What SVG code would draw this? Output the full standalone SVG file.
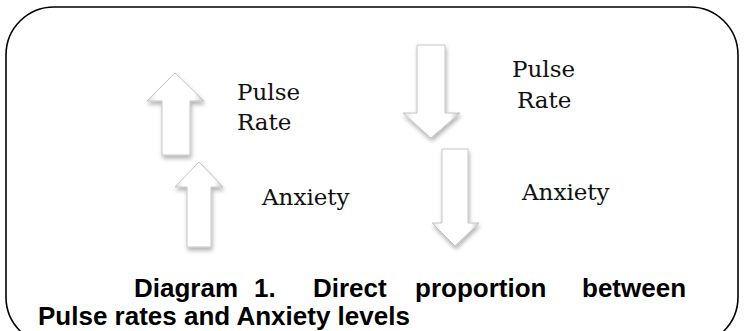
<svg xmlns="http://www.w3.org/2000/svg" width="747" height="331" viewBox="0 0 747 331">
<defs>
<style>
.lbl{font-family:"DejaVu Serif","Liberation Serif",serif;font-size:23px;fill:#111}
.cap{font-family:"Liberation Sans",Arial,sans-serif;font-weight:bold;font-size:26px;fill:#000}
.arr{fill:url(#g);stroke:#c4c4c4;stroke-width:1;filter:url(#sh)}
</style>
<linearGradient id="g" x1="0" y1="0" x2="1" y2="0">
<stop offset="0" stop-color="#dedede"/>
<stop offset="0.18" stop-color="#ffffff"/>
<stop offset="0.82" stop-color="#ffffff"/>
<stop offset="1" stop-color="#c8c8c8"/>
</linearGradient>
<filter id="sh" x="-30%" y="-30%" width="160%" height="160%">
<feDropShadow dx="1" dy="3" stdDeviation="2" flood-color="#000" flood-opacity="0.3"/>
</filter>
</defs>
<rect x="6" y="7" width="732" height="338" rx="48" ry="48" fill="#fff" stroke="#000" stroke-width="1.6"/>
<g id="arrow-up-pulse">
<path class="arr" d="M175,73 L204,101 L190,101 L190,155 L162,155 L162,101 L147,101 Z"/>
</g>
<g id="arrow-up-anxiety">
<path class="arr" d="M199,162 L223,187 L211,187 L211,247 L187,247 L187,187 L175,187 Z"/>
</g>
<g id="arrow-down-pulse">
<path class="arr" d="M417,45 L445,45 L445,113 L460,113 L431,138 L403,113 L417,113 Z"/>
</g>
<g id="arrow-down-anxiety">
<path class="arr" d="M442,149 L468,149 L468,223 L479,223 L455,246 L432,223 L442,223 Z"/>
</g>
<g id="label-pulse-up"><text class="lbl" x="237" y="100">Pulse</text><text class="lbl" x="237" y="130">Rate</text></g>
<g id="label-anxiety-up"><text class="lbl" x="262" y="205">Anxiety</text></g>
<g id="label-pulse-down"><text class="lbl" x="512" y="77">Pulse</text><text class="lbl" x="517" y="108">Rate</text></g>
<g id="label-anxiety-down"><text class="lbl" x="522" y="200">Anxiety</text></g>
<g id="caption">
<text class="cap" x="134" y="297">Diagram</text>
<text class="cap" x="254" y="297">1.</text>
<text class="cap" x="313" y="297">Direct</text>
<text class="cap" x="415" y="297">proportion</text>
<text class="cap" x="582" y="297">between</text>
<text class="cap" x="38" y="325">Pulse rates and Anxiety levels</text>
</g>
</svg>
